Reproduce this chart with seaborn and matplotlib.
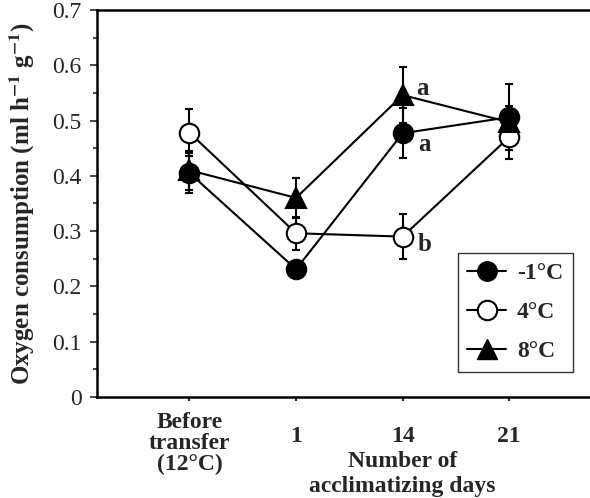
import numpy as np
import pandas as pd
import matplotlib
matplotlib.use("Agg")
import matplotlib.pyplot as plt
import matplotlib.transforms as mtransforms
import seaborn as sns
from matplotlib.lines import Line2D
from matplotlib.ticker import MultipleLocator

sns.set_theme(style="ticks")
plt.rcParams['font.family'] = ['Liberation Serif', 'DejaVu Serif']
plt.rcParams['mathtext.fontset'] = 'stix'
plt.rcParams['axes.unicode_minus'] = False

# data
tick_labels = ["Before\ntransfer\n(12°C)", "1", "14", "21"]
positions = [0, 1, 2, 3]
temps = ["-1°C", "4°C", "8°C"]
cold_mean = [0.405, 0.231, 0.477, 0.506]
cold_err = [0.036, 0.010, 0.045, 0.060]
mid_mean = [0.478, 0.296, 0.290, 0.470]
mid_err = [0.043, 0.030, 0.040, 0.040]
warm_mean = [0.410, 0.360, 0.546, 0.497]
warm_err = [0.035, 0.036, 0.050, 0.030]
letters = ["a", "a", "b"]  # day 14: 8°C, -1°C, 4°C

df = pd.DataFrame({
    "pos": positions * 3,
    "value": cold_mean + mid_mean + warm_mean,
    "err": cold_err + mid_err + warm_err,
    "temp": np.repeat(temps, len(positions)),
})

styles = {
    "-1°C": dict(marker="o", markerfacecolor="black"),
    "4°C": dict(marker="o", markerfacecolor="white"),
    "8°C": dict(marker="^", markerfacecolor="black"),
}

fig = plt.figure(figsize=(5.9, 4.98), dpi=100)
ax = fig.add_axes([0.164, 0.203, 0.84, 0.777])

for t in ["4°C", "-1°C", "8°C"]:
    sub = df[df["temp"] == t]
    ax.errorbar(sub["pos"], sub["value"], yerr=sub["err"], fmt="none",
                ecolor="black", elinewidth=1.5, capsize=3, capthick=1.5, zorder=2)
    sns.lineplot(data=sub, x="pos", y="value", ax=ax, color="black", lw=1.5,
                 markersize=14, markeredgecolor="black", markeredgewidth=1.5,
                 zorder=3, **styles[t])

# significance letters at day 14
ax.annotate(letters[0], (2, warm_mean[2]), xytext=(10, 5), textcoords="offset points",
            fontsize=18, fontweight="bold", va="center")
ax.annotate(letters[1], (2, cold_mean[2]), xytext=(11, -8), textcoords="offset points",
            fontsize=18, fontweight="bold", va="center")
ax.annotate(letters[2], (2, mid_mean[2]), xytext=(11, -6), textcoords="offset points",
            fontsize=18, fontweight="bold", va="center")

ax.set_xlim(-0.87, 3.78)
ax.set_ylim(0, 0.7)
ax.yaxis.set_minor_locator(MultipleLocator(0.05))
ax.set_yticks([0, 0.1, 0.2, 0.3, 0.4, 0.5, 0.6, 0.7])
ax.set_yticklabels(["0", "0.1", "0.2", "0.3", "0.4", "0.5", "0.6", "0.7"], fontsize=17)
ax.set_xticks(positions)
ax.set_xticklabels(tick_labels, fontsize=17, fontweight="bold", va="top",
                   linespacing=1.0)
ax.tick_params(axis="x", direction="out", length=3, width=1.5, pad=18)
ax.tick_params(axis="y", which="major", direction="out", length=5, width=1.2, pad=6)
ax.tick_params(axis="y", which="minor", direction="out", length=3, width=1.2)
# the multi-line label sits higher than the day numbers
lbl0 = ax.get_xticklabels()[0]
lbl0.set_transform(lbl0.get_transform() +
                   mtransforms.ScaledTranslation(0, 14 / 100, fig.dpi_scale_trans))
ax.spines["right"].set_visible(False)
for s in ["left", "top", "bottom"]:
    ax.spines[s].set_linewidth(1.8)
    ax.spines[s].set_color("black")

ax.set_xlabel("")
ax.set_ylabel(r"Oxygen consumption (ml h$^{\mathbf{-1}}$ g$^{\mathbf{-1}}$)",
              fontsize=18, fontweight="bold", labelpad=11)
ax.text(2, -0.097, "Number of\nacclimatizing days", transform=ax.transData,
        ha="center", va="top", fontsize=17, fontweight="bold", linespacing=1.3,
        clip_on=False)

handles = [
    Line2D([], [], color="black", lw=1.5, marker="o", markersize=14,
           markerfacecolor="black", markeredgecolor="black"),
    Line2D([], [], color="black", lw=1.5, marker="o", markersize=14,
           markerfacecolor="white", markeredgecolor="black", markeredgewidth=1.5),
    Line2D([], [], color="black", lw=1.5, marker="^", markersize=14,
           markerfacecolor="black", markeredgecolor="black"),
]
leg = fig.legend(handles, temps, loc="upper left",
                 bbox_to_anchor=(458 / 590, 1 - 253 / 498),
                 prop={"size": 17, "weight": "bold"}, frameon=True, fancybox=False,
                 edgecolor="black", handlelength=1.65, labelspacing=0.75,
                 borderpad=0.4, handletextpad=0.45, borderaxespad=0)
leg.get_frame().set_linewidth(1.0)

fig.savefig("out.png", dpi=100)
